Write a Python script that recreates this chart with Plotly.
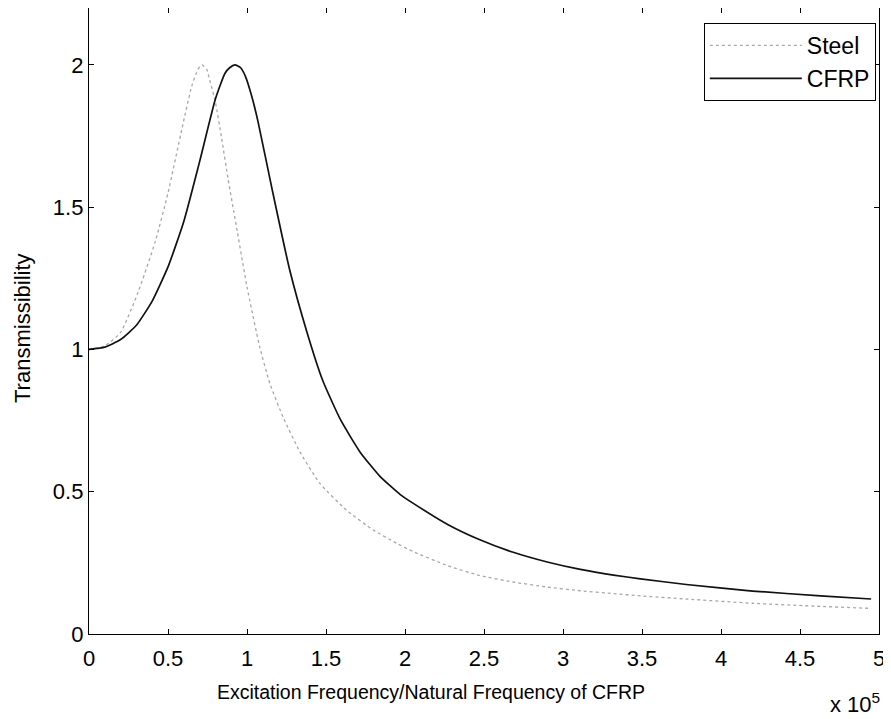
import plotly.graph_objects as go

# Excitation frequency / natural frequency of CFRP (x 10^5)
steel_x = [0, 0.1, 0.2, 0.31, 0.42, 0.50, 0.59, 0.65, 0.69, 0.715, 0.745, 0.76, 0.80,
           0.84, 0.88, 0.94, 1.0, 1.08, 1.145, 1.23, 1.335, 1.46, 1.63, 1.80, 1.95,
           2.05, 2.27, 2.47, 2.68, 2.90, 3.11, 3.32, 3.49, 3.78, 4.20, 4.63, 4.95]
steel_y = [1.0, 1.012, 1.06, 1.2, 1.38, 1.55, 1.78, 1.925, 1.985, 2.0, 1.985, 1.955, 1.87,
           1.74, 1.60, 1.41, 1.22, 1.01, 0.88, 0.76, 0.64, 0.53, 0.435, 0.365, 0.318,
           0.29, 0.24, 0.206, 0.183, 0.165, 0.152, 0.142, 0.134, 0.123, 0.108, 0.097, 0.09]

cfrp_x = [0, 0.1, 0.2, 0.3, 0.4, 0.5, 0.6, 0.7, 0.8, 0.86, 0.89, 0.924, 0.96, 0.99,
          1.03, 1.07, 1.16, 1.27, 1.38, 1.48, 1.59, 1.715, 1.84, 1.97, 2.05, 2.27,
          2.47, 2.68, 2.90, 3.11, 3.32, 3.49, 3.78, 4.20, 4.63, 4.95]
cfrp_y = [1.0, 1.008, 1.035, 1.085, 1.17, 1.29, 1.45, 1.66, 1.88, 1.97, 1.99, 2.0, 1.99, 1.96,
          1.89, 1.80, 1.56, 1.28, 1.06, 0.89, 0.755, 0.64, 0.555, 0.49, 0.46, 0.385,
          0.332, 0.288, 0.253, 0.227, 0.207, 0.194, 0.174, 0.151, 0.134, 0.123]

x_ticks = [0, 0.5, 1, 1.5, 2, 2.5, 3, 3.5, 4, 4.5, 5]
x_tick_labels = ["0", "0.5", "1", "1.5", "2", "2.5", "3", "3.5", "4", "4.5", "5"]
y_ticks = [0, 0.5, 1, 1.5, 2]
y_tick_labels = ["0", "0.5", "1", "1.5", "2"]

FONT = "Liberation Sans, Arial, Helvetica, sans-serif"

fig = go.Figure()
fig.add_trace(go.Scatter(x=steel_x, y=steel_y, mode="lines", name="Steel",
                         line=dict(color="#a8a8a8", width=1.3, dash="dot",
                                   shape="spline", smoothing=0.5)))
fig.add_trace(go.Scatter(x=cfrp_x, y=cfrp_y, mode="lines", name="CFRP",
                         line=dict(color="#111111", width=1.7,
                                   shape="spline", smoothing=0.5)))

axis_common = dict(showline=True, linecolor="black", linewidth=1.4, mirror="ticks",
                   ticks="inside", ticklen=5, tickcolor="black", tickwidth=1.4,
                   showgrid=False, zeroline=False, automargin=False,
                   tickfont=dict(family=FONT, size=22, color="black"))

fig.update_xaxes(range=[0, 5], tickvals=x_ticks, ticktext=x_tick_labels,
                 ticklabelstandoff=4, **axis_common)
fig.update_yaxes(range=[0, 2.2], tickvals=y_ticks, ticktext=y_tick_labels, **axis_common)

# the page body adds an 8 px offset, so the figure is sized to fit the window
fig.update_layout(
    width=883, height=711,
    margin=dict(l=81, r=12, t=0, b=85),
    paper_bgcolor="white", plot_bgcolor="white",
    showlegend=True,
    legend=dict(x=0.996, y=0.976, xanchor="right", yanchor="top",
                bordercolor="black", borderwidth=1, bgcolor="white",
                font=dict(family=FONT, size=23, color="black"),
                itemwidth=92, tracegroupgap=0),
    annotations=[
        dict(text="Excitation Frequency/Natural Frequency of CFRP", xref="paper", yref="paper",
             x=(431 - 89) / 790, y=-0.092, xanchor="center", yanchor="middle", showarrow=False,
             font=dict(family=FONT, size=19.5, color="black")),
        dict(text="Transmissibility", xref="paper", yref="paper",
             x=(22 - 89) / 790, y=(634 - 328) / 626, xanchor="center", yanchor="middle",
             showarrow=False, textangle=-90, font=dict(family=FONT, size=22, color="black")),
        dict(text="x 10<sup>5</sup>", xref="paper", yref="paper",
             x=(882 - 89) / 790, y=-0.11, xanchor="right", yanchor="middle", showarrow=False,
             font=dict(family=FONT, size=22, color="black")),
    ],
)

fig.write_html("out.html")
